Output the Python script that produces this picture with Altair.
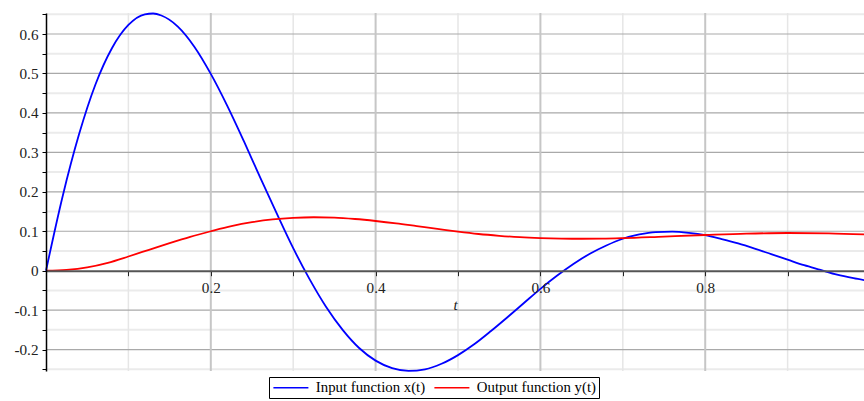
import altair as alt
import pandas as pd

# ---- data ----
t_in = [0, 0.02, 0.04, 0.06, 0.08, 0.10, 0.12, 0.13, 0.14, 0.16, 0.18, 0.20, 0.22, 0.24,
        0.26, 0.28, 0.30, 0.32, 0.34, 0.36, 0.38, 0.40, 0.42, 0.44, 0.46, 0.48, 0.50,
        0.52, 0.54, 0.56, 0.58, 0.60, 0.62, 0.64, 0.66, 0.68, 0.70, 0.72, 0.74, 0.76,
        0.78, 0.80, 0.82, 0.84, 0.86, 0.88, 0.90, 0.92, 0.94, 0.96, 0.98, 0.993]
x_in = [0, 0.187, 0.345, 0.472, 0.564, 0.623, 0.650, 0.652, 0.647, 0.619, 0.568, 0.499,
        0.418, 0.329, 0.236, 0.145, 0.057, -0.022, -0.092, -0.150, -0.196, -0.228,
        -0.247, -0.254, -0.250, -0.236, -0.214, -0.186, -0.153, -0.118, -0.082, -0.046,
        -0.013, 0.017, 0.043, 0.064, 0.081, 0.092, 0.098, 0.099, 0.096, 0.090, 0.080,
        0.069, 0.056, 0.042, 0.028, 0.014, 0.002, -0.010, -0.019, -0.024]

t_out = [0, 0.025, 0.05, 0.075, 0.10, 0.125, 0.15, 0.175, 0.20, 0.225, 0.25, 0.275, 0.30,
         0.325, 0.35, 0.375, 0.40, 0.425, 0.45, 0.475, 0.50, 0.525, 0.55, 0.575, 0.60,
         0.625, 0.65, 0.675, 0.70, 0.75, 0.80, 0.85, 0.90, 0.95, 0.993]
y_out = [0, 0.0022, 0.0085, 0.020, 0.036, 0.053, 0.070, 0.086, 0.100, 0.113, 0.123, 0.130,
         0.134, 0.1355, 0.1345, 0.131, 0.126, 0.120, 0.113, 0.106, 0.099, 0.093, 0.0885,
         0.085, 0.0828, 0.0815, 0.0810, 0.0813, 0.0825, 0.0865, 0.0905, 0.094, 0.0955,
         0.0948, 0.092]

series_names = ["Input function x(t)", "Output function y(t)"]
series_colors = ["#0000ff", "#ff0000"]

x_ticks = [0.1, 0.2, 0.3, 0.4, 0.5, 0.6, 0.7, 0.8, 0.9]
x_major_grid = [0.2, 0.4, 0.6, 0.8]
x_minor_grid = [0.1, 0.3, 0.5, 0.7, 0.9]
y_major_grid = [-0.2, -0.1, 0.1, 0.2, 0.3, 0.4, 0.5, 0.6]
y_minor_grid = [-0.25, -0.15, -0.05, 0.05, 0.15, 0.25, 0.35, 0.45, 0.55, 0.65]
y_ticks = [-0.25, -0.2, -0.15, -0.1, -0.05, 0, 0.05, 0.1, 0.15, 0.2, 0.25, 0.3,
           0.35, 0.4, 0.45, 0.5, 0.55, 0.6, 0.65]

X_DOMAIN = [0, 0.9927]
Y_DOMAIN = [-0.2543, 0.6533]
W, H = 818, 358
FONT = "Liberation Serif"
FS = 15.2
LEG_FS = 14.8

# offset that moves the x axis from the bottom to y = 0
x_axis_offset = -H * (0 - Y_DOMAIN[0]) / (Y_DOMAIN[1] - Y_DOMAIN[0])

df = pd.concat([
    pd.DataFrame({"t": t_in, "v": x_in, "series": series_names[0]}),
    pd.DataFrame({"t": t_out, "v": y_out, "series": series_names[1]}),
], ignore_index=True)

xs = alt.Scale(domain=X_DOMAIN, nice=False, zero=False)
ys = alt.Scale(domain=Y_DOMAIN, nice=False, zero=False)

x_axis = alt.Axis(
    values=x_ticks, offset=x_axis_offset, zindex=1, grid=False,
    domainColor="#555555", domainWidth=2, tickColor="#222222", tickSize=5, tickWidth=1,
    labelExpr="round(datum.value*10) % 2 == 0 ? format(datum.value, '.1f') : ''",
    labelFont=FONT, labelFontSize=FS, labelColor="#222222", labelPadding=5,
    title="t", titleFont=FONT, titleFontSize=FS, titleFontStyle="italic",
    titleFontWeight="normal", titleColor="#222222", titlePadding=2)

y_axis = alt.Axis(
    values=y_ticks, zindex=1, grid=False,
    domainColor="#000000", domainWidth=1.5, tickColor="#000000", tickSize=4, tickWidth=1,
    labelExpr="round(datum.value*20) % 2 == 0 ? (datum.value == 0 ? '0' : (datum.value < 0 ? '-' : '') + format(abs(datum.value), '.1f')) : ''",
    labelFont=FONT, labelFontSize=FS, labelColor="#222222", labelPadding=4, title=None)


def vrules(vals, color, width):
    return alt.Chart(pd.DataFrame({"t": vals})).mark_rule(color=color, strokeWidth=width).encode(
        x=alt.X("t:Q", scale=xs, axis=x_axis))


def hrules(vals, color, width):
    return alt.Chart(pd.DataFrame({"v": vals})).mark_rule(color=color, strokeWidth=width).encode(
        y=alt.Y("v:Q", scale=ys, axis=y_axis))


grid = (hrules(y_minor_grid, "#ebebeb", 2)
        + vrules(x_minor_grid, "#e6e6e6", 1.5)
        + hrules(y_major_grid, "#a9a9a9", 1.2)
        + vrules(x_major_grid, "#c6c6c6", 2))

lines = alt.Chart(df).mark_line(strokeWidth=1.8, interpolate="monotone").encode(
    x=alt.X("t:Q", scale=xs, axis=x_axis),
    y=alt.Y("v:Q", scale=ys, axis=y_axis),
    color=alt.Color("series:N",
                    scale=alt.Scale(domain=series_names, range=series_colors),
                    legend=alt.Legend(
                        orient="none", legendX=223, legendY=364, direction="horizontal",
                        title=None, symbolType="M-1.2,0H5.8", symbolSize=100,
                        symbolStrokeWidth=1.6, labelFont=FONT, labelFontSize=LEG_FS,
                        labelColor="#000000", labelOffset=29, columnPadding=5,
                        padding=3, strokeColor="#000000", fillColor="#ffffff")),
    detail="series:N",
)

chart = (grid + lines).properties(
    width=W, height=H,
    padding={"left": 46, "top": 13, "right": 0, "bottom": 30},
    autosize=alt.AutoSizeParams(type="none"),
    background="#ffffff",
).configure_view(stroke=None)

chart.save("out.html", embed_options={"renderer": "svg", "actions": False})
